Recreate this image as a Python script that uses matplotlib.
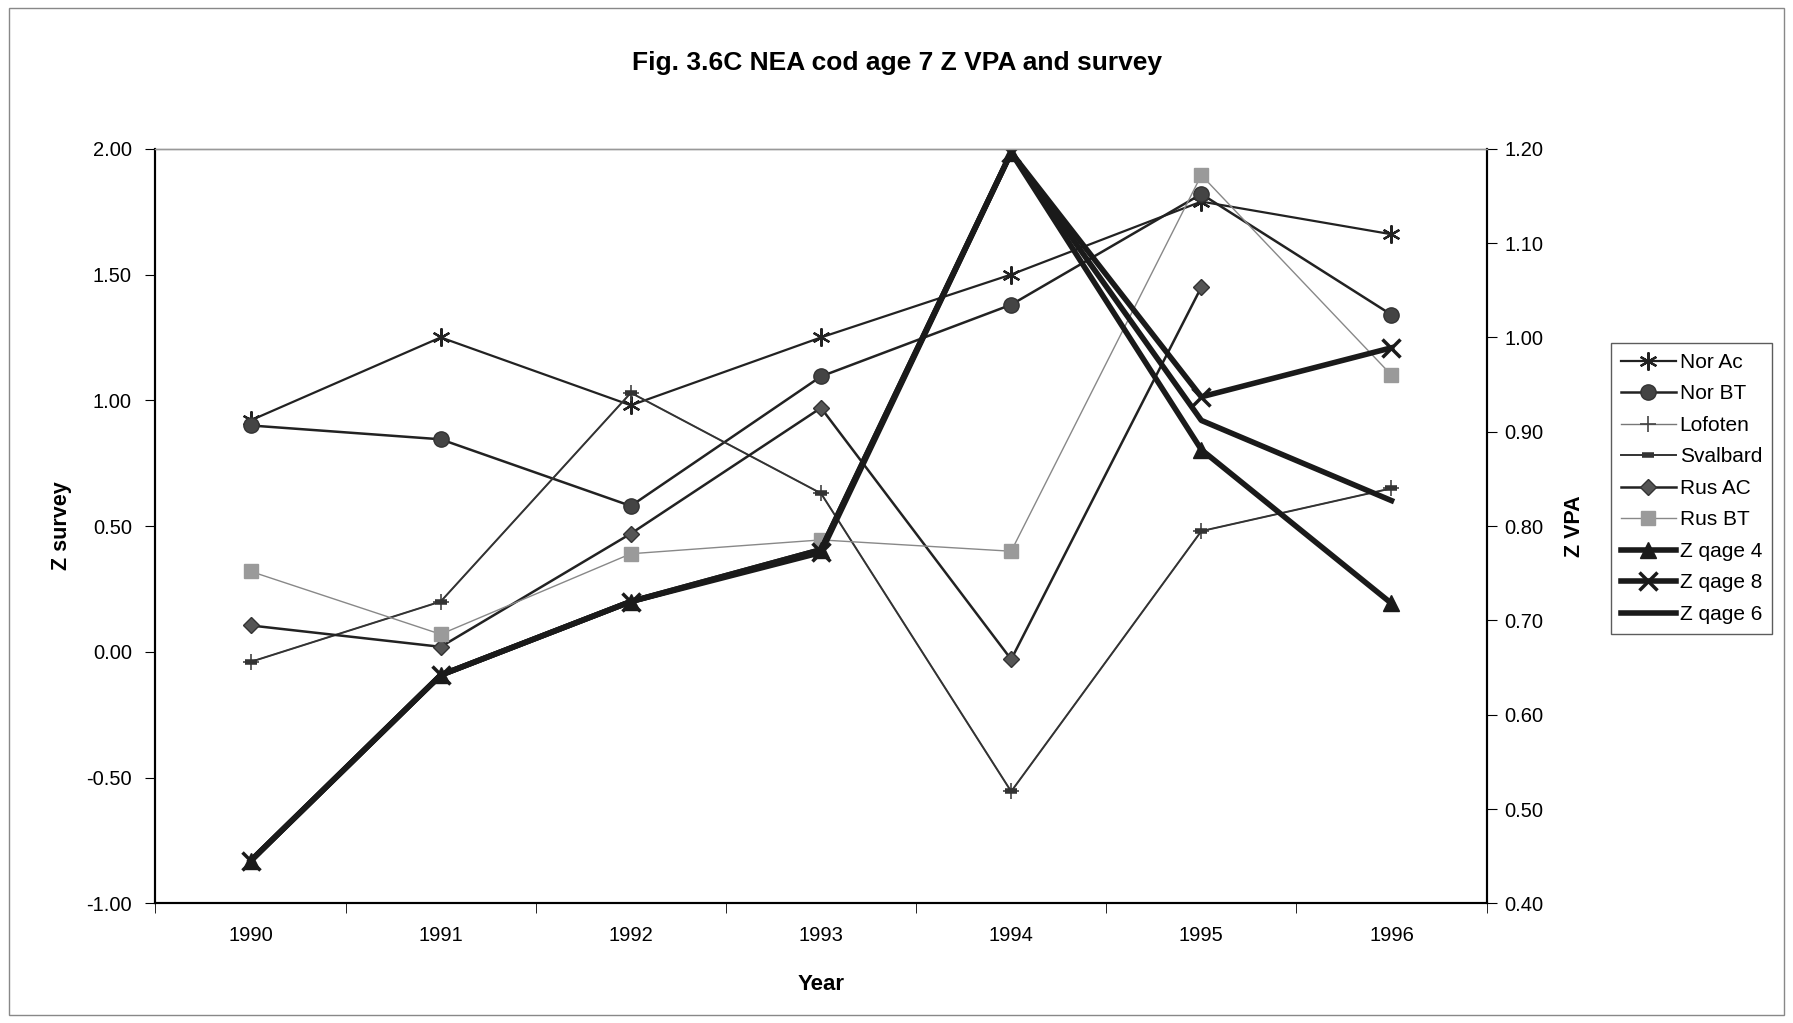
import numpy as np
import matplotlib
matplotlib.use("Agg")
import matplotlib.pyplot as plt
from matplotlib.patches import Rectangle

plt.rcParams['font.family'] = ['Liberation Sans', 'DejaVu Sans']

years = [1990, 1991, 1992, 1993, 1994, 1995, 1996]

# survey Z (left axis)
nor_ac = [0.92, 1.25, 0.98, 1.25, 1.50, 1.79, 1.66]
nor_bt = [0.90, 0.845, 0.58, 1.095, 1.38, 1.82, 1.34]
lofoten = [-0.04, 0.20, 1.03, 0.63, -0.555, 0.48, 0.65]
svalbard = [-0.04, 0.20, 1.03, 0.63, -0.555, 0.48, 0.65]
rus_ac = [0.105, 0.02, 0.47, 0.97, -0.03, 1.45, np.nan]
rus_bt = [0.32, 0.07, 0.39, 0.445, 0.40, 1.895, 1.10]

# VPA Z (right axis)
z_age4 = [0.445, 0.642, 0.72, 0.775, 1.196, 0.881, 0.718]
z_age8 = [0.445, 0.642, 0.72, 0.772, 1.196, 0.937, 0.989]
z_age6 = [0.445, 0.642, 0.72, 0.775, 1.196, 0.912, 0.827]

fig = plt.figure(figsize=(17.93, 10.23), dpi=100)
ax = fig.add_axes([0.0867, 0.1169, 0.7424, 0.7377])
ax2 = ax.twinx()

x = np.arange(len(years))
asterisk = (6, 2, 0)

h = []
h += ax.plot(x, nor_ac, color='#222222', lw=1.6, marker=asterisk, ms=13, mew=1.6, label='Nor Ac')
h += ax.plot(x, nor_bt, color='#222222', lw=1.8, marker='o', ms=11, mfc='#444444', mec='#333333', label='Nor BT')
h += ax.plot(x, lofoten, color='#777777', lw=1.0, marker='+', ms=12, mew=1.2, mec='#444444', label='Lofoten')
h += ax.plot(x, svalbard, color='#333333', lw=1.4, marker='_', ms=9, mew=4, label='Svalbard')
h += ax.plot(x, rus_ac, color='#222222', lw=1.8, marker='D', ms=8, mfc='#555555', mec='#333333', label='Rus AC')
h += ax.plot(x, rus_bt, color='#888888', lw=1.0, marker='s', ms=10, mfc='#9a9a9a', mec='#9a9a9a', label='Rus BT')

h += ax2.plot(x, z_age4, color='#1a1a1a', lw=4.0, marker='^', ms=11, label='Z qage 4')
h += ax2.plot(x, z_age8, color='#1a1a1a', lw=4.0, marker='x', ms=13, mew=2.5, label='Z qage 8')
h += ax2.plot(x, z_age6, color='#1a1a1a', lw=4.0, label='Z qage 6')

ax.set_xlim(-0.5, len(years) - 0.5)
ax.set_ylim(-1.0, 2.0)
ax2.set_ylim(0.40, 1.20)

ax.set_xticks(x)
ax.set_xticklabels([str(y) for y in years])
ax.set_xticks(np.arange(-0.5, len(years), 1.0), minor=True)
ax.tick_params(axis='x', which='major', length=0, labelsize=14.5, pad=16)
ax.tick_params(axis='x', which='minor', length=7, direction='out')
ax.set_yticks(np.arange(-1.0, 2.01, 0.5))
ax.set_yticklabels(['%.2f' % v for v in np.arange(-1.0, 2.01, 0.5)])
ax.tick_params(axis='y', length=7, labelsize=14.5, pad=10)
ax2.set_yticks(np.arange(0.40, 1.201, 0.10))
ax2.set_yticklabels(['%.2f' % v for v in np.arange(0.40, 1.201, 0.10)])
ax2.tick_params(axis='y', length=7, labelsize=14.5, pad=6)

for a in (ax, ax2):
    a.spines['top'].set_color('#999999')
    a.spines['top'].set_linewidth(1.0)
    a.spines['left'].set_linewidth(1.5)
    a.spines['bottom'].set_linewidth(1.5)
    a.spines['right'].set_linewidth(1.5)

ax.set_xlabel('Year', fontsize=16, fontweight='bold')
ax.set_ylabel('Z survey', fontsize=15.5, fontweight='bold')
ax2.set_ylabel('Z VPA', fontsize=15.5, fontweight='bold', rotation=90)
ax.xaxis.set_label_coords(0.5, -0.0935)
ax.yaxis.set_label_coords(-0.063, 0.5)
ax2.yaxis.set_label_coords(1.058, 0.5)

fig.text(0.5, 0.938, 'Fig. 3.6C NEA cod age 7 Z VPA and survey', ha='center', va='center',
         fontsize=19, fontweight='bold')

leg = fig.legend(handles=h, loc='center', bbox_to_anchor=(0.9435, 0.5225), fontsize=15,
                 frameon=True, fancybox=False, edgecolor='#333333', handlelength=2.6,
                 handletextpad=0.2, borderpad=0.5, labelspacing=0.6, borderaxespad=0)
leg.get_frame().set_linewidth(1.0)

fig.patches.append(Rectangle((0.005, 0.008), 0.99, 0.984, transform=fig.transFigure,
                             fill=False, edgecolor='#888888', lw=1.0))

fig.savefig('out.png', dpi=100)
